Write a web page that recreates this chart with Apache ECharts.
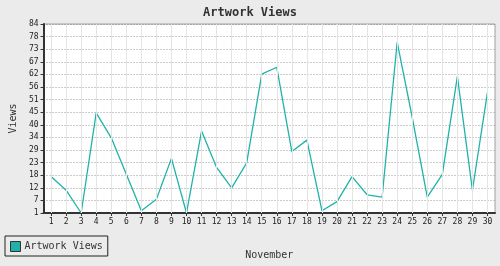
<!DOCTYPE html>
<html>
<head>
<meta charset="utf-8">
<script src="https://cdn.jsdelivr.net/npm/echarts@6/dist/echarts.min.js"></script>
<style>html,body{margin:0;padding:0;background:#ebebeb;}#c{width:500px;height:266px;}</style>
</head>
<body>
<div id="c"></div>
<script>
const days = ['1','2','3','4','5','6','7','8','9','10','11','12','13','14','15','16','17','18','19','20','21','22','23','24','25','26','27','28','29','30'];
const views = [17,11,1,45,34,18,2,7,25,1,37,21,12,23,62,65,28,33,2,6,17,9,8,76,43,8,18,61,11,54];
const yMin = 1, yMax = 84, ySteps = 15;

const chart = echarts.init(document.getElementById('c'), null, {renderer:'canvas'});
const mono = 'DejaVu Sans Mono';
chart.setOption({
  backgroundColor: '#ebebeb',
  animation: false,
  title: {
    text: 'Artwork Views', left: 'center', top: 2,
    textStyle: {fontFamily: mono, fontSize: 12, fontWeight: 'bold', color: '#333'}
  },
  legend: {
    left: 5, top: 236, orient: 'horizontal',
    padding: [5, 5, 4, 5],
    borderColor: '#222', borderWidth: 1,
    itemWidth: 10, itemHeight: 10,
    icon: 'rect',
    itemStyle: {borderColor: '#333', borderWidth: 1},
    textStyle: {fontFamily: mono, fontSize: 10, color: '#333', padding: [0,0,0,-1]},
    data: ['Artwork Views']
  },
  grid: {
    left: 35, right: 5, top: 24, bottom: 53,
    show: true, backgroundColor: '#ffffff', borderColor: '#a0a0a0', borderWidth: 1
  },
  xAxis: {
    type: 'category', data: days, boundaryGap: true,
    name: 'November', nameLocation: 'middle', nameGap: 37,
    nameTextStyle: {fontFamily: mono, fontSize: 10, color: '#333'},
    axisLine: {lineStyle: {color: '#333', width: 2}},
    axisTick: {show: true, alignWithLabel: true, length: 3, lineStyle: {color: '#333'}},
    axisLabel: {fontFamily: mono, fontSize: 8, color: '#222', margin: 5, interval: 0},
    splitLine: {show: false}
  },
  yAxis: {
    type: 'value', min: yMin, max: yMax, interval: (yMax - yMin) / ySteps,
    name: 'Views', nameLocation: 'middle', nameGap: 18, nameRotate: 90,
    nameTextStyle: {fontFamily: mono, fontSize: 10, color: '#333'},
    axisLine: {show: true, lineStyle: {color: '#333', width: 2}},
    axisTick: {show: true, length: 3, lineStyle: {color: '#333'}},
    axisLabel: {fontFamily: mono, fontSize: 8, color: '#222', margin: 5,
      formatter: v => String(Math.round(v))},
    splitLine: {show: true, lineStyle: {color: '#999', width: 1, type: [1, 2]}}
  },
  series: [{
    name: 'grid', type: 'line', data: [], z: 0, silent: true,
    markLine: {
      silent: true, symbol: 'none', label: {show: false},
      lineStyle: {color: '#e4e4e4', width: 1, type: 'solid'},
      emphasis: {disabled: true},
      data: days.map(d => ({xAxis: d}))
    }
  }, {
    name: 'Artwork Views', type: 'line', data: views, z: 3,
    showSymbol: false, symbol: 'none',
    color: '#20b2aa',
    lineStyle: {color: '#20b2aa', width: 1.3}
  }]
});
</script>
</body>
</html>
